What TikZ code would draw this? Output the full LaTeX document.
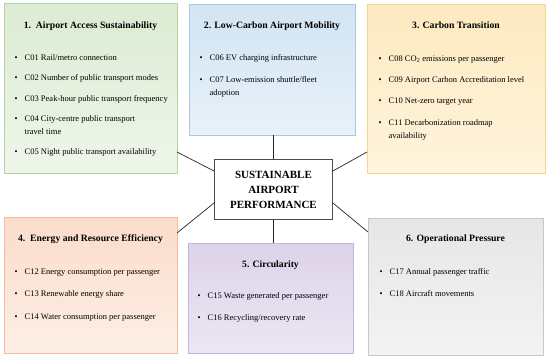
\documentclass[tikz,border=0pt]{standalone}
\usepackage{fontspec}
\setmainfont{Liberation Serif}
\usetikzlibrary{shadows}
\definecolor{gT}{HTML}{DCEBD3}\definecolor{gB}{HTML}{EEF6EA}\definecolor{gD}{HTML}{B5D3A1}
\definecolor{bT}{HTML}{D2E4F3}\definecolor{bB}{HTML}{E8F1F9}\definecolor{bD}{HTML}{A8C8E4}
\definecolor{yT}{HTML}{FDE9C0}\definecolor{yB}{HTML}{FFF4DC}\definecolor{yD}{HTML}{F2D58F}
\definecolor{oT}{HTML}{FBDCCA}\definecolor{oB}{HTML}{FDEFE6}\definecolor{oD}{HTML}{F5BB9C}
\definecolor{pT}{HTML}{DDD3EA}\definecolor{pB}{HTML}{ECE6F3}\definecolor{pD}{HTML}{C4B5DB}
\definecolor{kT}{HTML}{E6E6E6}\definecolor{kB}{HTML}{F3F3F3}\definecolor{kD}{HTML}{C8C8C8}
\newcommand{\myitem}[4]{%
  \node[bul] (#3u) at (#1,#2+3) {\textbullet};
  \node[itm] (#3) at (#1+8.5,#2+3) {#4};}
\newcommand{\myitemtwo}[5]{%
  \node[bul] (#3u) at (#1,#2+3) {\textbullet};
  \node[itm] (#3) at (#1+8.5,#2+3) {#4};
  \node[itm] (#3b) at (#1+8.5,#2+16) {#5};}
\begin{document}
\begin{tikzpicture}[x=1pt,y=-1pt,
  box/.style={draw, line width=0.8pt, rectangle, anchor=north west, inner sep=0pt, outer sep=0pt,
    drop shadow={shadow xshift=0.8pt,shadow yshift=-0.8pt,opacity=0.2}},
  ttl/.style={font=\fontsize{9.7}{12}\selectfont\bfseries, anchor=base, inner sep=0pt},
  itm/.style={font=\fontsize{8.5}{13}\selectfont, anchor=base west, inner sep=0pt},
  bul/.style={font=\fontsize{8.5}{13}\selectfont, anchor=base, inner sep=0pt},
  conn/.style={draw=black!85, line width=0.7pt}]
\useasboundingbox (0,0) rectangle (550,359);

% boxes
\node[box, draw=gD, top color=gT, bottom color=gB, minimum width=173pt, minimum height=170pt] (b1) at (4,3) {};
\node[box, draw=bD, top color=bT, bottom color=bB, minimum width=166pt, minimum height=131pt] (b2) at (189,4) {};
\node[box, draw=yD, top color=yT, bottom color=yB, minimum width=178pt, minimum height=169pt] (b3) at (367,4) {};
\node[box, draw=oD, top color=oT, bottom color=oB, minimum width=173pt, minimum height=136pt] (b4) at (4,217) {};
\node[box, draw=pD, top color=pT, bottom color=pB, minimum width=165pt, minimum height=110pt] (b5) at (188,243) {};
\node[box, draw=kD, top color=kT, bottom color=kB, minimum width=175pt, minimum height=137pt] (b6) at (368,218) {};

% centre
\node[draw=black!70, line width=0.9pt, fill=white, minimum width=118pt, minimum height=60pt,
  anchor=north west, align=center, inner sep=0pt,
  font=\fontsize{11}{15}\selectfont\bfseries] (c) at (214,159) {SUSTAINABLE\\AIRPORT\\PERFORMANCE};

% box 1
\node[ttl] (t1) at (90.5,28) {1.\ \ Airport Access Sustainability};
\myitem{16}{57}{i01}{C01 Rail/metro connection}
\myitem{16}{77}{i02}{C02 Number of public transport modes}
\myitem{16}{98}{i03}{C03 Peak-hour public transport frequency}
\myitemtwo{16}{118}{i04}{C04 City-centre public transport}{travel time}
\myitem{16}{151}{i05}{C05 Night public transport availability}
% box 2
\node[ttl] (t2) at (272,28) {2. Low-Carbon Airport Mobility};
\myitem{201}{57}{i06}{C06 EV charging infrastructure}
\myitemtwo{201}{79}{i07}{C07 Low-emission shuttle/fleet}{adoption}
% box 3
\node[ttl] (t3) at (456,28) {3. Carbon Transition};
\myitem{380}{58}{i08}{C08 CO\textsubscript{2} emissions per passenger}
\myitem{380}{79}{i09}{C09 Airport Carbon Accreditation level}
\myitem{380}{100}{i10}{C10 Net-zero target year}
\myitemtwo{380}{122}{i11}{C11 Decarbonization roadmap}{availability}
% box 4
\node[ttl] (t4) at (90.5,241) {4.\ \ Energy and Resource Efficiency};
\myitem{16}{271}{i12}{C12 Energy consumption per passenger}
\myitem{16}{293}{i13}{C13 Renewable energy share}
\myitem{16}{316}{i14}{C14 Water consumption per passenger}
% box 5
\node[ttl] (t5) at (270.5,267) {5. Circularity};
\myitem{199}{295}{i15}{C15 Waste generated per passenger}
\myitem{199}{317}{i16}{C16 Recycling/recovery rate}
% box 6
\node[ttl] (t6) at (455.5,241) {6. Operational Pressure};
\myitem{381}{271}{i17}{C17 Annual passenger traffic}
\myitem{381}{293}{i18}{C18 Aircraft movements}

% connectors
\coordinate (h152) at (0,152);
\coordinate (h171) at (0,171);
\coordinate (h203) at (0,203);
\coordinate (h233) at (0,233);
\coordinate (h232) at (0,232);
\draw[conn] (c.north |- b2.south) -- (c.north);
\draw[conn] (c.south) -- (c.south |- b5.north);
\draw[conn] (b1.east |- h152) -- (c.west |- h171);
\draw[conn] (b4.east |- h233) -- (c.west |- h203);
\draw[conn] (c.east |- h171) -- (b3.west |- h152);
\draw[conn] (c.east |- h203) -- (b6.west |- h232);
\end{tikzpicture}
\end{document}
